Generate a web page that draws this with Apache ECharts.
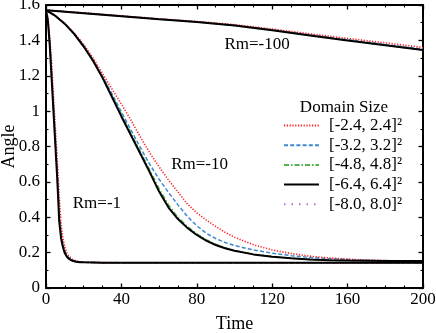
<!DOCTYPE html>
<html>
<head>
<meta charset="utf-8" />
<script src="https://cdn.jsdelivr.net/npm/echarts@6/dist/echarts.min.js"></script>
<style>
  html, body { margin: 0; padding: 0; background: #fff; }
  #chart { width: 436px; height: 333px; }
</style>
</head>
<body>
<div id="chart"></div>
<script>
// 时间轴
const timeRm1 = [0, 1, 2, 3, 4, 5, 6, 7, 8, 9, 10, 11, 12, 14, 16, 18, 20, 25, 30, 40, 200];
const timeRm10 = [0, 5, 10, 15, 20, 25, 30, 35, 40, 45, 50, 55, 60, 65, 70, 75, 80, 85, 90, 95, 100,
  110, 120, 130, 140, 150, 160, 170, 180, 190, 200];
const timeRm100 = [0, 20, 40, 60, 80, 100, 120, 140, 160, 180, 200];

const domainNames = ["[-2.4, 2.4]²", "[-3.2, 3.2]²", "[-4.8, 4.8]²", "[-6.4, 6.4]²", "[-8.0, 8.0]²"];

// Rm=-1
const rm1D24 = [1.571, 1.53, 1.42, 1.27, 1.08, 0.9, 0.72, 0.52, 0.36, 0.28, 0.23, 0.2, 0.182, 0.163, 0.153, 0.149, 0.147, 0.145, 0.144, 0.143, 0.143];
const rm1D32 = [1.571, 1.52, 1.4, 1.22, 1.03, 0.85, 0.66, 0.45, 0.31, 0.25, 0.21, 0.188, 0.173, 0.158, 0.151, 0.147, 0.146, 0.144, 0.143, 0.143, 0.143];
const rm1D48 = [1.571, 1.515, 1.38, 1.2, 1.01, 0.82, 0.63, 0.41, 0.29, 0.24, 0.2, 0.182, 0.169, 0.156, 0.149, 0.146, 0.145, 0.144, 0.143, 0.143, 0.143];
const rm1D64 = [1.571, 1.51, 1.37, 1.18, 0.99, 0.8, 0.61, 0.38, 0.28, 0.23, 0.196, 0.178, 0.166, 0.154, 0.148, 0.146, 0.145, 0.144, 0.143, 0.143, 0.143];
const rm1D80 = [1.571, 1.51, 1.37, 1.18, 0.99, 0.8, 0.61, 0.38, 0.28, 0.23, 0.196, 0.178, 0.166, 0.154, 0.148, 0.146, 0.145, 0.144, 0.143, 0.143, 0.143];

// Rm=-10
const rm10D24 = [1.571, 1.54, 1.497, 1.442, 1.377, 1.3, 1.212, 1.125, 1.04, 0.95, 0.855, 0.765, 0.685, 0.61, 0.543, 0.475, 0.425, 0.385, 0.348, 0.315, 0.287,
  0.245, 0.215, 0.195, 0.18, 0.17, 0.163, 0.158, 0.155, 0.153, 0.152];
const rm10D32 = [1.571, 1.539, 1.495, 1.438, 1.37, 1.29, 1.198, 1.097, 0.995, 0.895, 0.795, 0.7, 0.615, 0.54, 0.47, 0.405, 0.352, 0.31, 0.28, 0.257, 0.24,
  0.215, 0.197, 0.183, 0.173, 0.166, 0.161, 0.157, 0.155, 0.153, 0.152];
const rm10D48 = [1.571, 1.538, 1.494, 1.437, 1.368, 1.287, 1.195, 1.09, 0.982, 0.877, 0.772, 0.668, 0.562, 0.47, 0.4, 0.348, 0.306, 0.273, 0.247, 0.228, 0.213,
  0.191, 0.178, 0.168, 0.161, 0.157, 0.155, 0.154, 0.153, 0.152, 0.152];
const rm10D64 = [1.571, 1.538, 1.493, 1.435, 1.365, 1.283, 1.188, 1.08, 0.97, 0.865, 0.76, 0.655, 0.545, 0.455, 0.39, 0.34, 0.3, 0.268, 0.243, 0.225, 0.211,
  0.19, 0.177, 0.168, 0.161, 0.157, 0.155, 0.154, 0.153, 0.152, 0.152];
const rm10D80 = [1.571, 1.538, 1.493, 1.435, 1.365, 1.283, 1.188, 1.08, 0.97, 0.865, 0.76, 0.655, 0.545, 0.455, 0.39, 0.34, 0.3, 0.268, 0.243, 0.225, 0.211,
  0.19, 0.177, 0.168, 0.161, 0.157, 0.155, 0.154, 0.153, 0.152, 0.152];

// Rm=-100
const rm100D24 = [1.571, 1.556, 1.539, 1.522, 1.507, 1.489, 1.464, 1.437, 1.411, 1.386, 1.36];
const rm100D32 = [1.571, 1.555, 1.538, 1.521, 1.505, 1.486, 1.46, 1.432, 1.404, 1.377, 1.35];
const rm100D48 = [1.571, 1.554, 1.537, 1.52, 1.504, 1.485, 1.458, 1.429, 1.4, 1.373, 1.346];
const rm100D64 = [1.571, 1.554, 1.537, 1.52, 1.504, 1.484, 1.457, 1.428, 1.399, 1.372, 1.345];
const rm100D80 = [1.571, 1.554, 1.537, 1.52, 1.504, 1.484, 1.457, 1.428, 1.399, 1.372, 1.345];

const xTicks = [0, 40, 80, 120, 160, 200];
const yTicks = [0, 0.2, 0.4, 0.6, 0.8, 1, 1.2, 1.4, 1.6];

const font = "'Liberation Serif', 'Times New Roman', serif";

// 每个区域尺寸的线型
const lineStyles = [
  { color: "#ff1f1f", width: 1.6, type: [1.2, 1.6] },
  { color: "#3f88cc", width: 1.5, type: [4, 2.2] },
  { color: "#55b34f", width: 1.5, type: [5, 2, 1.5, 2] },
  { color: "#000000", width: 2, type: "solid" },
  { color: "#bb6fd6", width: 1.5, type: [1.5, 6] },
];
const zOrder = [4, 3, 2, 5, 1];

const groups = [
  { time: timeRm1, values: [rm1D24, rm1D32, rm1D48, rm1D64, rm1D80] },
  { time: timeRm10, values: [rm10D24, rm10D32, rm10D48, rm10D64, rm10D80] },
  { time: timeRm100, values: [rm100D24, rm100D32, rm100D48, rm100D64, rm100D80] },
];

// 标注文字（数据坐标）
const rmLabels = [
  { text: "Rm=-1", at: [27, 0.476] },
  { text: "Rm=-10", at: [81.5, 0.697] },
  { text: "Rm=-100", at: [112, 1.375] },
];

let series = [];
groups.forEach(function (g) {
  g.values.forEach(function (vals, i) {
    series.push({
      name: domainNames[i],
      type: "line",
      symbol: "none",
      showSymbol: false,
      z: zOrder[i],
      lineStyle: lineStyles[i],
      itemStyle: { color: lineStyles[i].color },
      data: g.time.map(function (t, k) {
        return [t, vals[k]];
      }),
    });
  });
});

function axisCommon(show) {
  return {
    type: "value",
    axisLine: { show: true, onZero: false, lineStyle: { color: "#000", width: 2 } },
    axisTick: { show: true, inside: true, length: 4.5, lineStyle: { color: "#000", width: 1.3 } },
    minorTick: { show: true, length: 2.5, lineStyle: { color: "#000", width: 1.1 } },
    splitLine: { show: false },
    axisLabel: { show: show, color: "#000", fontFamily: font, fontSize: 17 },
  };
}

let chart = echarts.init(document.getElementById("chart"));

let xBottom = axisCommon(true);
Object.assign(xBottom, {
  position: "bottom",
  min: xTicks[0],
  max: xTicks[xTicks.length - 1],
  interval: xTicks[1] - xTicks[0],
  name: "Time",
  nameLocation: "middle",
  nameGap: 27,
  nameMoveOverlap: false,
  nameTextStyle: { color: "#000", fontFamily: font, fontSize: 18 },
});
xBottom.axisLabel.margin = 3;
xBottom.minorTick.splitNumber = 4;

let xTop = axisCommon(false);
Object.assign(xTop, { position: "top", min: xTicks[0], max: xTicks[xTicks.length - 1], interval: xTicks[1] - xTicks[0] });
xTop.minorTick.splitNumber = 4;

let yLeft = axisCommon(true);
Object.assign(yLeft, {
  position: "left",
  min: yTicks[0],
  max: yTicks[yTicks.length - 1],
  interval: yTicks[1] - yTicks[0],
  name: "Angle",
  nameLocation: "middle",
  nameGap: 28,
  nameMoveOverlap: false,
  nameTextStyle: { color: "#000", fontFamily: font, fontSize: 18 },
});
yLeft.axisLabel.margin = 6;
yLeft.minorTick.splitNumber = 2;

let yRight = axisCommon(false);
Object.assign(yRight, { position: "right", min: yTicks[0], max: yTicks[yTicks.length - 1], interval: yTicks[1] - yTicks[0] });
yRight.minorTick.splitNumber = 2;

let option = {
  animation: false,
  backgroundColor: "#fff",
  grid: { left: 46, right: 13, top: 5, bottom: 45, containLabel: false, outerBoundsMode: "none" },
  xAxis: [xBottom, xTop],
  yAxis: [yLeft, yRight],
  legend: {
    data: domainNames,
    orient: "vertical",
    left: 283,
    top: 117,
    padding: 0,
    itemWidth: 35,
    itemHeight: 14,
    itemGap: 2.7,
    itemStyle: { opacity: 0 },
    textStyle: { color: "#000", fontFamily: font, fontSize: 17, padding: [0, 0, 0, 5] },
  },
  series: series,
};
chart.setOption(option);

// 文字标注
let graphics = rmLabels.map(function (l) {
  let p = chart.convertToPixel({ gridIndex: 0 }, l.at);
  return {
    type: "text",
    x: p[0],
    y: p[1],
    style: { text: l.text, fill: "#000", font: "17px " + font, align: "center", verticalAlign: "middle" },
  };
});
graphics.push({
  type: "text",
  x: 344,
  y: 108,
  style: { text: "Domain Size", fill: "#000", font: "17px " + font, align: "center", verticalAlign: "middle" },
});
chart.setOption({ graphic: graphics });
</script>
</body>
</html>
